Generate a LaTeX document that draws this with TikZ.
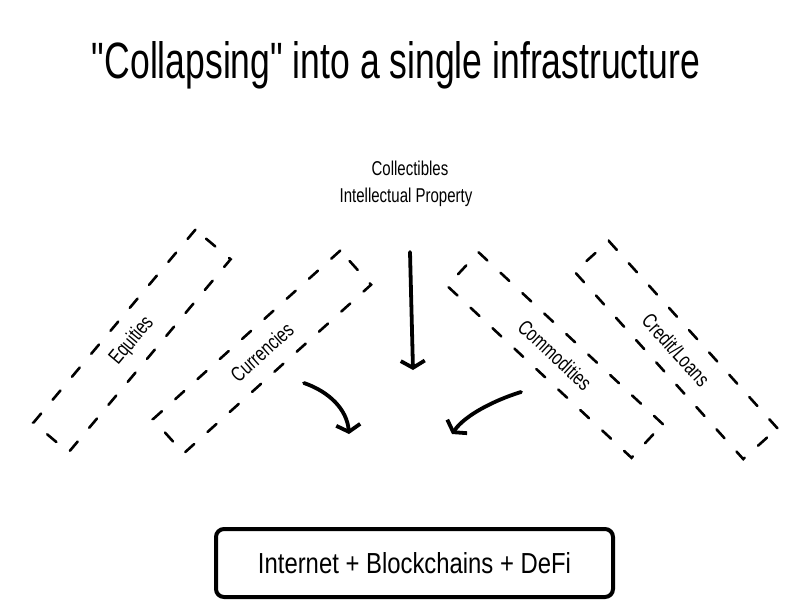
\documentclass[tikz,border=0pt]{standalone}
\usepackage{fontspec}
\setmainfont{Liberation Sans}
\newfontfamily\hand[FakeStretch=0.75]{Liberation Sans}
\newfontfamily\titlefont{Liberation Sans}
\usetikzlibrary{arrows.meta}
\begin{document}
\begin{tikzpicture}[x=1pt,y=-1pt,
  dbox/.style={draw, line width=2.6pt, line cap=round, dash pattern=on 12pt off 18pt,
    minimum width=252pt, minimum height=46pt, inner sep=0pt,
    font=\hand\fontsize{21}{24}\selectfont},
  arr/.style={line width=3.8pt, line cap=round, -{Straight Barb[length=7pt,width=24pt]}},
  lbl/.style={font=\hand\fontsize{20}{24}\selectfont, anchor=base, inner sep=0pt}]
\fill[white] (0,0) rectangle (800,613);
\useasboundingbox (0,0) rectangle (800,613);
% title
\node[anchor=base, inner sep=0pt] (title) at (396,78)
  {\resizebox{608pt}{37pt}{\titlefont "Collapsing" into a single infrastructure}};
% top labels
\node[lbl] (coll) at (410,175) {Collectibles};
\node[lbl] (ip) at (406,202) {Intellectual Property};
% dashed category boxes
\node[dbox, rotate=50] (eq) at (132,341) {Equities};
\node[dbox, rotate=42] (cur) at (262,352) {Currencies};
\node[dbox, rotate=-43] (com) at (555,355) {Commodities};
\node[dbox, rotate=-48] (cred) at (676,350) {Credit/Loans};
% bottom box
\node[draw, line width=4pt, rounded corners=8pt, minimum width=397pt,
  minimum height=68pt, inner sep=0pt] (infra) at (414.5,563)
  {\resizebox{313pt}{21pt}{Internet + Blockchains + DeFi}};
% arrows
\coordinate (dA) at (410,252);
\coordinate (dB) at (413,370);
\draw[arr] (dA) -- (dB);
\coordinate (lA) at (304,383);
\coordinate (lB) at (349,434);
\draw[arr] (lA) .. controls (330,392) and (347,410) .. (lB);
\coordinate (rA) at (521,392);
\coordinate (rB) at (452,434);
\draw[arr] (rA) .. controls (495,400) and (465,415) .. (rB);
\end{tikzpicture}
\end{document}
